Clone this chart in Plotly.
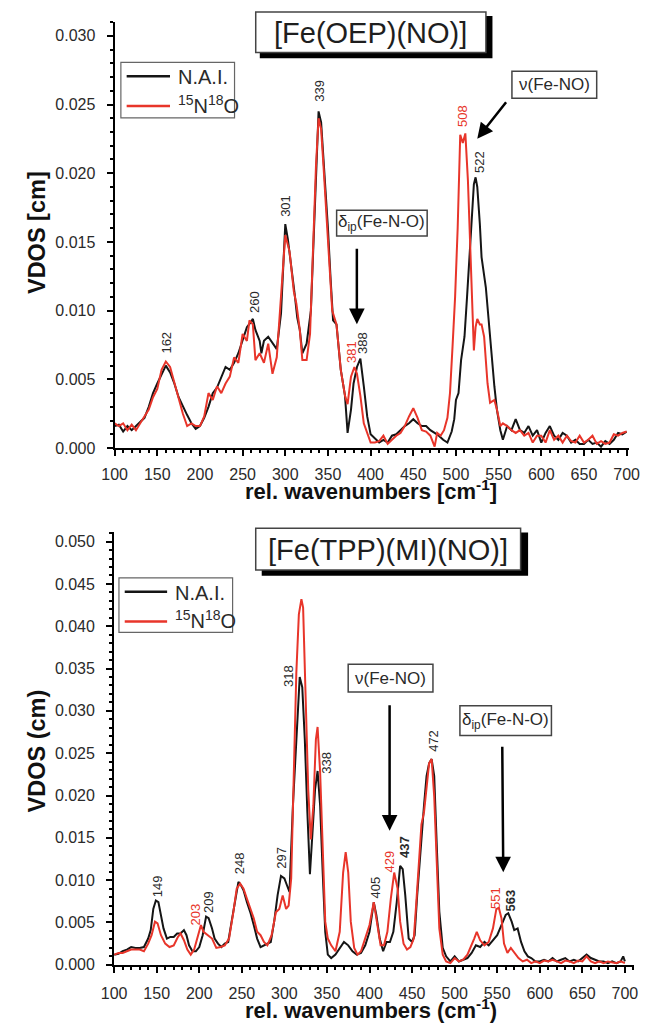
import plotly.graph_objects as go

# ---------------- data ----------------
top_x_nai = [100,105,110,115,120,125,130,135,140,145,150,155,160,165,170,175,180,185,190,195,200,205,210,215,220,225,230,235,240,245,250,255,260,262,265,270,272,275,280,285,290,295,300,303,307,311,314,317,320,325,330,333,336,339,342,345,348,350,353,356,360,365,370,373,377,380,384,388,392,396,400,405,410,415,420,425,430,435,440,445,450,455,460,465,470,475,480,485,490,495,498,500,503,506,510,513,516,519,521,523,525,528,530,535,540,545,548,552,555,560,565,570,575,580,585,590,595,600,605,610,615,620,625,630,635,640,645,650,655,660,665,670,675,680,685,690,695,700]
top_y_nai = [.0016,.0017,.0012,.0016,.0013,.0016,.0019,.0022,.0030,.0040,.0047,.0053,.0060,.0055,.0047,.0037,.0030,.0024,.0018,.0014,.0016,.0022,.0030,.0040,.0044,.0052,.0059,.0057,.0062,.0069,.0078,.0088,.0092,.0094,.0086,.0078,.0069,.0078,.0081,.0076,.0072,.0098,.0163,.0152,.0134,.0112,.0095,.0086,.0069,.0076,.0100,.0148,.0208,.0245,.0237,.0208,.0184,.0160,.0124,.0093,.0090,.0057,.0038,.0011,.0028,.0047,.0059,.0065,.0045,.0023,.0010,.0007,.0004,.0006,.0004,.0009,.0010,.0013,.0016,.0018,.0021,.0018,.0016,.0016,.0013,.0011,.0009,.0006,.0004,.0012,.0021,.0035,.0040,.0064,.0081,.0110,.0143,.0175,.0192,.0197,.0190,.0163,.0139,.0117,.0078,.0045,.0028,.0013,.0006,.0016,.0013,.0021,.0013,.0011,.0016,.0009,.0013,.0004,.0011,.0016,.0009,.0006,.0011,.0009,.0004,.0006,.0003,.0003,.0006,.0003,.0004,.0001,.0005,.0003,.0006,.0011,.0010,.0012]

top_x_iso = [100,105,110,115,120,125,130,135,140,145,150,155,160,165,170,175,180,185,190,195,200,205,210,215,220,225,230,235,240,245,250,255,258,262,265,270,275,280,285,290,295,300,305,310,313,317,320,325,329,333,336,339,342,345,350,355,360,365,370,373,377,381,384,388,392,396,400,405,410,415,420,425,430,435,440,445,450,455,460,465,470,475,478,482,486,490,493,496,499,502,505,508,511,514,516,518,521,523,525,528,530,533,537,540,545,548,552,555,560,565,570,575,580,585,590,595,600,605,610,615,620,625,630,635,640,645,650,655,660,665,670,675,680,685,690,695,700]
top_y_iso = [.0018,.0016,.0018,.0013,.0017,.0013,.0018,.0023,.0028,.0037,.0043,.0057,.0063,.0059,.0047,.0035,.0025,.0016,.0018,.0016,.0016,.0023,.0040,.0035,.0045,.0040,.0047,.0052,.0066,.0062,.0083,.0078,.0093,.0090,.0064,.0069,.0062,.0076,.0054,.0066,.0110,.0155,.0143,.0114,.0105,.0086,.0064,.0064,.0083,.0160,.0206,.0240,.0232,.0203,.0153,.0100,.0090,.0057,.0038,.0032,.0052,.0059,.0054,.0038,.0018,.0011,.0004,.0004,.0005,.0009,.0003,.0006,.0009,.0011,.0016,.0023,.0029,.0022,.0013,.0012,.0009,.0001,.0011,.0009,.0013,.0022,.0040,.0074,.0110,.0160,.0228,.0222,.0229,.0195,.0160,.0114,.0071,.0088,.0094,.0090,.0090,.0081,.0047,.0033,.0035,.0028,.0016,.0018,.0016,.0013,.0011,.0013,.0009,.0011,.0004,.0009,.0009,.0004,.0013,.0006,.0009,.0004,.0009,.0005,.0004,.0009,.0004,.0006,.0009,.0003,.0005,.0003,.0004,.0010,.0009,.0011,.0012]

bot_x_nai = [100,105,110,115,120,125,130,135,140,143,146,149,152,155,158,162,166,170,174,178,182,185,188,192,196,200,204,208,211,215,218,222,226,230,234,238,242,246,249,252,256,260,264,268,272,276,280,284,288,292,296,300,303,306,310,315,318,321,324,327,330,333,336,339,342,345,348,351,355,360,365,370,375,380,385,390,395,400,405,408,412,416,420,424,428,432,436,439,442,446,450,453,456,460,464,467,470,473,476,479,482,486,490,495,500,505,510,515,520,525,530,535,540,545,550,555,560,563,567,570,574,578,582,586,590,595,600,605,610,615,620,625,630,635,640,645,650,655,660,665,670,675,680,685,690,695,698,700]
bot_y_nai = [.0012,.0013,.0016,.0018,.0021,.0020,.0020,.0021,.0031,.0041,.0066,.0076,.0074,.0059,.0043,.0031,.0033,.0033,.0037,.0037,.0041,.0035,.0023,.0016,.0016,.0021,.0035,.0057,.0055,.0043,.0031,.0025,.0021,.0025,.0027,.0051,.0074,.0098,.0094,.0088,.0074,.0062,.0047,.0031,.0021,.0023,.0025,.0027,.0051,.0082,.0105,.0102,.0094,.0086,.0188,.0285,.0340,.0328,.0266,.0180,.0107,.0156,.0207,.0229,.0188,.0109,.0039,.0012,.0008,.0012,.0020,.0027,.0023,.0016,.0012,.0014,.0023,.0039,.0074,.0059,.0031,.0016,.0027,.0027,.0039,.0074,.0117,.0113,.0082,.0031,.0027,.0035,.0082,.0141,.0188,.0223,.0238,.0243,.0223,.0141,.0063,.0020,.0010,.0004,.0010,.0004,.0006,.0008,.0014,.0023,.0021,.0027,.0023,.0029,.0035,.0047,.0059,.0061,.0051,.0041,.0043,.0027,.0016,.0010,.0008,.0004,.0004,.0006,.0004,.0008,.0004,.0006,.0008,.0004,.0006,.0004,.0008,.0012,.0008,.0006,.0004,.0004,.0002,.0004,.0002,.0004,.0010,.0004]

bot_x_iso = [100,105,110,115,120,125,130,135,140,144,148,151,155,160,165,170,175,178,182,186,190,194,198,202,205,210,215,220,225,230,235,240,244,248,252,256,260,264,268,272,276,280,285,290,294,298,302,305,308,311,314,317,320,322,325,328,331,334,337,339,342,345,348,351,355,360,365,369,372,375,378,382,386,390,395,400,405,409,413,417,421,425,429,433,436,440,444,448,452,455,458,461,464,467,470,473,476,479,482,486,490,495,500,505,510,515,519,523,526,530,535,540,545,549,552,555,558,562,566,570,575,580,585,590,595,600,605,610,615,620,625,630,635,640,645,650,655,660,665,670,675,680,685,690,695,700]
bot_y_iso = [.0012,.0014,.0014,.0016,.0018,.0018,.0018,.0016,.0025,.0035,.0051,.0049,.0035,.0025,.0021,.0023,.0033,.0037,.0029,.0018,.0012,.0018,.0031,.0047,.0039,.0035,.0031,.0020,.0021,.0023,.0031,.0062,.0090,.0096,.0090,.0078,.0066,.0055,.0039,.0035,.0027,.0023,.0035,.0062,.0066,.0082,.0066,.0070,.0102,.0220,.0344,.0414,.0432,.0422,.0324,.0207,.0148,.0188,.0266,.0281,.0227,.0129,.0051,.0031,.0023,.0016,.0039,.0109,.0133,.0109,.0051,.0020,.0012,.0016,.0031,.0047,.0074,.0051,.0023,.0023,.0039,.0078,.0109,.0090,.0051,.0025,.0018,.0021,.0031,.0074,.0121,.0166,.0180,.0207,.0238,.0243,.0199,.0121,.0043,.0012,.0004,.0002,.0008,.0004,.0006,.0012,.0021,.0031,.0039,.0029,.0023,.0027,.0043,.0066,.0067,.0055,.0025,.0014,.0020,.0014,.0008,.0004,.0006,.0002,.0004,.0002,.0005,.0004,.0006,.0004,.0002,.0005,.0004,.0002,.0005,.0004,.0010,.0004,.0002,.0004,.0002,.0004,.0003,.0002,.0004,.0002]

series_names = ["N.A.I.", "<sup>15</sup>N<sup>18</sup>O"]
titles = ["[Fe(OEP)(NO)]", "[Fe(TPP)(MI)(NO)]"]
x_titles = ["rel. wavenumbers [cm<sup>-1</sup>]", "rel. wavenumbers (cm<sup>-1</sup>)"]
y_titles = ["VDOS [cm]", "VDOS (cm)"]

# peak labels: (text, x, y, isotope?, bold?)
top_peaks = [("162", 161, 0.00765, False, False), ("260", 264.6, 0.01064, False, False),
             ("301", 299.9, 0.01764, False, False), ("339", 340.5, 0.0260, False, False),
             ("381", 378.4, 0.0070, True, False), ("388", 390.6, 0.00761, False, False),
             ("508", 507.6, 0.0242, True, False), ("522", 526.8, 0.0208, False, False)]
bot_peaks = [("149", 150.9, 0.00934, False, False), ("203", 195, 0.00595, True, False),
             ("209", 210.8, 0.00747, False, False), ("248", 248.2, 0.01204, False, False),
             ("297", 296.8, 0.01262, False, False), ("318", 304.7, 0.03417, False, False),
             ("338", 350, 0.02386, False, False), ("405", 407.3, 0.00911, False, False),
             ("429", 423.5, 0.01215, True, False), ("437", 440.4, 0.01391, False, True),
             ("472", 474.4, 0.02644, False, False), ("551", 547.9, 0.00794, True, False),
             ("563", 565.6, 0.00765, False, True)]

# ---------------- style / layout ----------------
W, H = 652, 1032
FONT = "Liberation Sans, Arial, sans-serif"
BLACK = "#151515"
RED = "#e8352a"
TXT = "#2a2a2a"

def fx(p):
    return p / W

def fy(p):
    return 1 - p / H

fig = go.Figure()
fig.add_trace(go.Scatter(x=top_x_nai, y=top_y_nai, mode="lines", name=series_names[0],
                         line=dict(color=BLACK, width=2), xaxis="x", yaxis="y"))
fig.add_trace(go.Scatter(x=top_x_iso, y=top_y_iso, mode="lines", name=series_names[1],
                         line=dict(color=RED, width=2), xaxis="x", yaxis="y"))
fig.add_trace(go.Scatter(x=bot_x_nai, y=bot_y_nai, mode="lines", name=series_names[0],
                         line=dict(color=BLACK, width=2), xaxis="x2", yaxis="y2"))
fig.add_trace(go.Scatter(x=bot_x_iso, y=bot_y_iso, mode="lines", name=series_names[1],
                         line=dict(color=RED, width=2), xaxis="x2", yaxis="y2"))

axis_common = dict(showline=True, linecolor="black", linewidth=2, ticks="outside",
                   ticklen=6, tickwidth=2, tickcolor="black", showgrid=False, zeroline=False,
                   tickfont=dict(family=FONT, size=16, color=TXT))
minor_common = dict(ticklen=3, tickwidth=1.5, ticks="outside", tickcolor="black")

fig.update_layout(
    width=W, height=H, margin=dict(l=0, r=0, t=0, b=0),
    paper_bgcolor="white", plot_bgcolor="white", showlegend=False,
    xaxis=dict(domain=[fx(105.5), fx(640)], range=[100, 703.3], dtick=50, anchor="y",
               ticklabelstandoff=5, minor=dict(dtick=10, **minor_common), **axis_common),
    yaxis=dict(domain=[fy(452), fy(22)], range=[0, 0.03102], dtick=0.005, tickformat=".3f",
               anchor="x", ticklabelstandoff=8, minor=dict(dtick=0.001, **minor_common), **axis_common),
    xaxis2=dict(domain=[fx(105), fx(645)], range=[100, 711], dtick=50, anchor="y2",
                ticklabelstandoff=7, minor=dict(dtick=10, **minor_common), **axis_common),
    yaxis2=dict(domain=[fy(973.3), fy(536.7)], range=[0, 0.05113], dtick=0.005, tickformat=".3f",
                anchor="x2", ticklabelstandoff=8, minor=dict(dtick=0.001, **minor_common), **axis_common),
)

shapes = []
annotations = []

def rect(x0, y0, x1, y1, line_color="#555", fill="white", lw=1.5):
    shapes.append(dict(type="rect", xref="paper", yref="paper", x0=fx(x0), x1=fx(x1),
                       y0=fy(y1), y1=fy(y0), line=dict(color=line_color, width=lw),
                       fillcolor=fill, layer="above"))

def text(t, x, y, size, color=TXT, angle=0, xanchor="center", bold=False):
    annotations.append(dict(text=("<b>%s</b>" % t) if bold else t, x=fx(x), y=fy(y),
                            xref="paper", yref="paper", showarrow=False, textangle=angle,
                            xanchor=xanchor, yanchor="middle",
                            font=dict(family=FONT, size=size, color=color)))

def arrow(tipx, tipy, tailx, taily):
    annotations.append(dict(text="", x=fx(tipx), y=fy(tipy), xref="paper", yref="paper",
                            ax=tailx - tipx, ay=taily - tipy, showarrow=True,
                            arrowhead=2, arrowsize=1.25, arrowwidth=2.5, arrowcolor="black"))

# title boxes with shadow
rect(257, 17, 497, 58, line_color="black", fill="black")
rect(252, 12, 491, 53, line_color="#444", fill="white")
text(titles[0], 371.5, 33, 29, color="#1e1e1e")
rect(259, 538, 534, 580, line_color="black", fill="black")
rect(252, 533, 527, 575, line_color="#444", fill="white")
text(titles[1], 389.5, 554.5, 29, color="#1e1e1e")

# legends
rect(112, 63, 230, 119, line_color="#666", lw=1.2)
shapes.append(dict(type="line", xref="paper", yref="paper", x0=fx(118), x1=fx(163), y0=fy(77), y1=fy(77),
                   line=dict(color=BLACK, width=2.5)))
shapes.append(dict(type="line", xref="paper", yref="paper", x0=fx(118), x1=fx(163), y0=fy(107), y1=fy(107),
                   line=dict(color=RED, width=2.5)))
text(series_names[0], 169, 78, 20, xanchor="left")
text(series_names[1], 169, 105, 20, xanchor="left")

rect(110, 583, 228, 638, line_color="#666", lw=1.2)
shapes.append(dict(type="line", xref="paper", yref="paper", x0=fx(116), x1=fx(160), y0=fy(597), y1=fy(597),
                   line=dict(color=BLACK, width=2.5)))
shapes.append(dict(type="line", xref="paper", yref="paper", x0=fx(116), x1=fx(160), y0=fy(627), y1=fy(627),
                   line=dict(color=RED, width=2.5)))
text(series_names[0], 166, 598, 20, xanchor="left")
text(series_names[1], 166, 625, 20, xanchor="left")

# annotation boxes
rect(336, 212, 430, 238, line_color="#444", lw=1.5)
text("δ<sub>ip</sub>(Fe-N-O)", 383, 225, 17)
arrow(357, 327, 357, 250)
rect(518, 72, 606, 99, line_color="#444", lw=1.5)
text("ν(Fe-NO)", 562, 85.5, 17)
arrow(482, 140, 512, 102)

rect(348, 670, 436, 698, line_color="#444", lw=1.5)
text("ν(Fe-NO)", 392, 684, 17)
arrow(391, 838, 391, 711)
rect(464, 712, 559, 742, line_color="#444", lw=1.5)
text("δ<sub>ip</sub>(Fe-N-O)", 511.5, 727, 17)
arrow(509, 880, 508, 753)

# axis titles
text(x_titles[0], 371.5, 494, 22, color="#111", bold=True)
text(x_titles[1], 372, 1017.5, 22, color="#111", bold=True)
text(y_titles[0], 25, 235, 23.5, color="#111", angle=-90, bold=True)
text(y_titles[1], 25, 758, 23.5, color="#111", angle=-90, bold=True)

# peak labels (data coordinates)
for (t, xv, yv, iso, b) in top_peaks:
    annotations.append(dict(text=("<b>%s</b>" % t) if b else t, x=xv, y=yv, xref="x", yref="y",
                            showarrow=False, textangle=-90, xanchor="center", yanchor="middle",
                            font=dict(family=FONT, size=13, color=RED if iso else TXT)))
for (t, xv, yv, iso, b) in bot_peaks:
    annotations.append(dict(text=("<b>%s</b>" % t) if b else t, x=xv, y=yv, xref="x2", yref="y2",
                            showarrow=False, textangle=-90, xanchor="center", yanchor="middle",
                            font=dict(family=FONT, size=13, color=RED if iso else TXT)))

fig.update_layout(shapes=shapes, annotations=annotations)
fig.write_html("out.html")
